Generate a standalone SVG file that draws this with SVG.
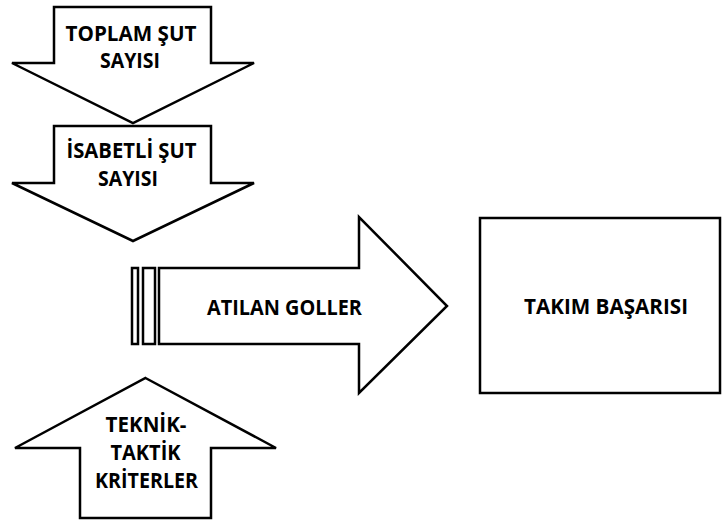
<svg xmlns="http://www.w3.org/2000/svg" width="725" height="522" viewBox="0 0 725 522">
<style>
.s{fill:#fff;stroke:#000;stroke-width:2.5;stroke-linejoin:miter}
.t{font-family:"Open Sans","Liberation Sans",sans-serif;font-weight:bold;font-size:21px;fill:#000;text-anchor:middle}
</style>
<rect width="725" height="522" fill="#fff"/>
<g id="toplam">
<polygon class="s" points="54,7 211,7 211,63 254,63 133,123 12,63 54,63"/>
<text class="t" x="131" y="41" textLength="131" lengthAdjust="spacingAndGlyphs">TOPLAM ŞUT</text>
<text class="t" x="130" y="68" textLength="60" lengthAdjust="spacingAndGlyphs">SAYISI</text>
</g>
<g id="isabetli">
<polygon class="s" points="54,126 211,126 211,183 254,183 133,241 12,183 54,183"/>
<text class="t" x="131.5" y="158" textLength="130" lengthAdjust="spacingAndGlyphs">İSABETLİ ŞUT</text>
<text class="t" x="128" y="186" textLength="60" lengthAdjust="spacingAndGlyphs">SAYISI</text>
</g>
<g id="atilan">
<rect class="s" x="132" y="268" width="6" height="76"/>
<rect class="s" x="143" y="268" width="12" height="76"/>
<polygon class="s" points="159,268 359,268 359,217 447,306 359,393 359,344 159,344"/>
<text class="t" x="284.5" y="315" textLength="155" lengthAdjust="spacingAndGlyphs">ATILAN GOLLER</text>
</g>
<g id="teknik">
<polygon class="s" points="145.5,378 276,448 211,448 211,518 80,518 80,448 15,448"/>
<text class="t" x="146" y="431.5" textLength="81" lengthAdjust="spacingAndGlyphs">TEKNİK-</text>
<text class="t" x="145.5" y="460" textLength="70" lengthAdjust="spacingAndGlyphs">TAKTİK</text>
<text class="t" x="146.5" y="487.5" textLength="103" lengthAdjust="spacingAndGlyphs">KRİTERLER</text>
</g>
<g id="takim">
<rect class="s" x="480" y="218" width="240" height="175"/>
<text class="t" x="606" y="314" textLength="164" lengthAdjust="spacingAndGlyphs">TAKIM BAŞARISI</text>
</g>
<g id="connectors"></g>
</svg>
